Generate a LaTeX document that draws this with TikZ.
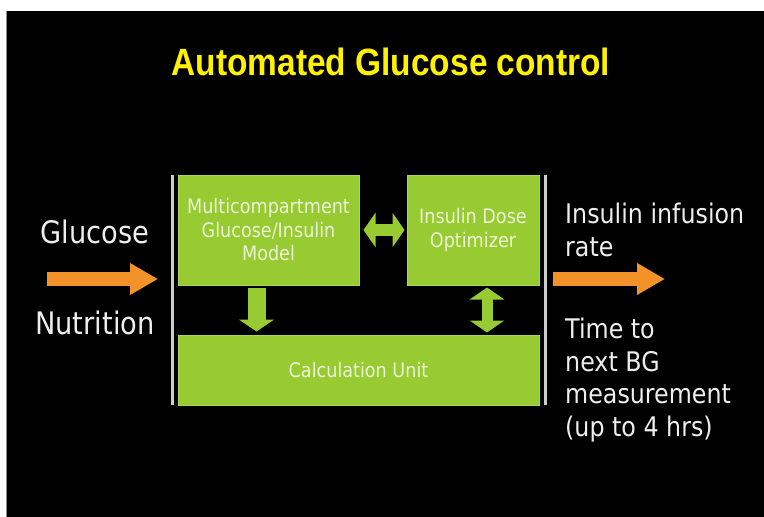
\documentclass[tikz,border=0pt]{standalone}
\usepackage{fontspec}
\setmainfont{DejaVu Sans}
\newfontfamily\titlefont[FakeStretch=0.88]{Liberation Sans}
\newfontfamily\slidefont[FakeStretch=0.88]{DejaVu Sans}
\usetikzlibrary{arrows.meta,positioning,calc}
\definecolor{boxgreen}{RGB}{152,202,50}
\definecolor{boxedge}{RGB}{170,215,80}
\definecolor{boxtext}{RGB}{236,244,214}
\definecolor{flow}{RGB}{242,146,40}
\definecolor{rule}{RGB}{205,205,205}
\definecolor{labeltext}{RGB}{238,238,238}

\begin{document}
\begin{tikzpicture}[x=1pt,y=-1pt,
	gbox/.style={fill=boxgreen,draw=boxedge,line width=1pt,inner sep=0pt,align=center,text=boxtext,
		font=\slidefont\fontsize{20}{23.5}\selectfont},
	lbl/.style={text=labeltext,inner sep=0pt,font=\slidefont\fontsize{31}{33}\selectfont},
	rlbl/.style={text=labeltext,inner sep=0pt,align=left,anchor=north west,font=\slidefont\fontsize{27}{32.5}\selectfont},
	flowarrow/.style={draw=flow,line width=14pt,-{Triangle[width=30pt,length=28pt]}},
	downarrow/.style={draw=boxgreen,line width=18pt,-{Triangle[width=35pt,length=12pt]}},
	twoarrow/.style={draw=boxgreen,line width=12pt,{Triangle[width=34pt,length=12pt]}-{Triangle[width=34pt,length=12pt]}}]
	\useasboundingbox (0,0) rectangle (764,517);
	\fill[white] (0,0) rectangle (764,517);
	\fill[black] (7,11) rectangle (764,517);
	\draw[rule!70!black,line width=1pt] (6.5,11) -- (6.5,517);

	\node[text=yellow,inner sep=0pt,anchor=base,font=\titlefont\bfseries\fontsize{38}{40}\selectfont] (title) at (391,75) {Automated Glucose control};

	\node[gbox,minimum width=181pt,minimum height=110pt] (model) at (268.5,230) {Multicompartment\\Glucose/Insulin\\Model};
	\node[gbox,minimum width=132pt,minimum height=110pt] (optim) at (473,230) {Insulin Dose\\Optimizer};
	\node[gbox,minimum width=361pt,minimum height=70pt] (calc) at (358.5,370) {Calculation Unit};

	\coordinate (lt) at (172,175); \coordinate (lb) at (172,405);
	\coordinate (rt) at (545,175); \coordinate (rb) at (545,405);
	\draw[rule,line width=3pt] (lt) -- (lb);
	\draw[rule,line width=3pt] (rt) -- (rb);

	\draw[twoarrow,shorten <=4pt,shorten >=2pt] (model.east) -- (optim.west);
	\draw[downarrow,shorten <=2pt,shorten >=3pt] ([xshift=-12pt]model.south) -- ([xshift=-12pt]model.south |- calc.north);
	\draw[twoarrow,line width=11pt,shorten <=2pt,shorten >=2pt] ([xshift=14pt]optim.south) -- ([xshift=14pt]optim.south |- calc.north);

	\node[lbl,anchor=base] (glucose) at (95,243) {Glucose};
	\node[lbl,anchor=base] (nutrition) at (95,334) {Nutrition};
	\coordinate (inL) at (47,279);
	\draw[flowarrow,shorten >=14pt] (inL) -- (inL -| lt);

	\node[rlbl] (rate) at (565,203) {Insulin infusion\\rate};
	\node[rlbl] (nextbg) at (565,318) {Time to\\next BG\\measurement\\(up to 4 hrs)};
	\coordinate (outR) at (665,279);
	\draw[flowarrow,shorten <=8pt] (outR -| rt) -- (outR);
\end{tikzpicture}
\end{document}
